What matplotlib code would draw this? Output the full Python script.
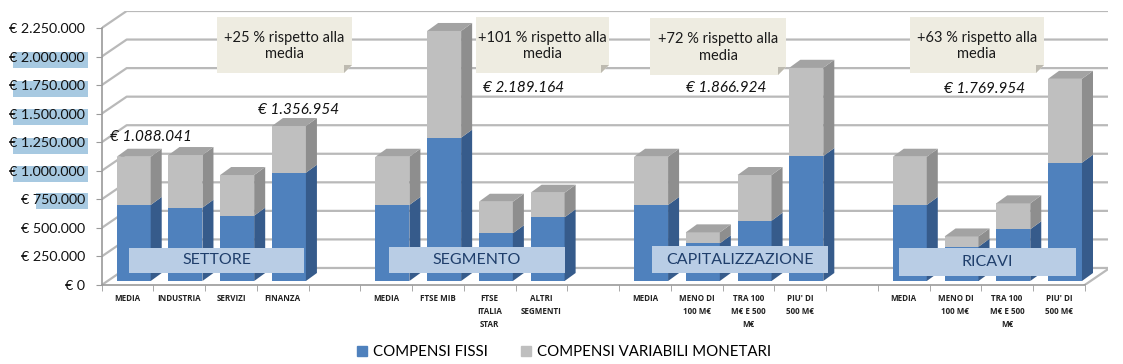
import matplotlib
matplotlib.use("Agg")
import matplotlib.pyplot as plt
from matplotlib.patches import Polygon, Rectangle, Patch
import numpy as np

plt.rcParams['font.family'] = ['Lato', 'DejaVu Sans']

# ---- data (euro) ----
groups = ['SETTORE', 'SEGMENTO', 'CAPITALIZZAZIONE', 'RICAVI']
cat_settore = ['MEDIA', 'INDUSTRIA', 'SERVIZI', 'FINANZA']
cat_segmento = ['MEDIA', 'FTSE MIB', 'FTSE\nITALIA\nSTAR', 'ALTRI\nSEGMENTI']
cat_capitalizzazione = ['MEDIA', 'MENO DI\n100 M€', 'TRA 100\nM€ E 500\nM€', "PIU' DI\n500 M€"]
cat_ricavi = ['MEDIA', 'MENO DI\n100 M€', 'TRA 100\nM€ E 500\nM€', "PIU' DI\n500 M€"]

fissi_settore = [666000, 642000, 572000, 948000]
fissi_segmento = [666000, 1255000, 418000, 558000]
fissi_capitalizzazione = [666000, 330000, 528000, 1094000]
fissi_ricavi = [666000, 300000, 453000, 1036000]

variabili_settore = [422041, 461000, 356000, 408954]
variabili_segmento = [422041, 934164, 276000, 215000]
variabili_capitalizzazione = [422041, 96000, 400000, 772924]
variabili_ricavi = [422041, 90000, 227000, 733954]

value_labels = ['€ 1.088.041', '€ 1.356.954', '€ 2.189.164', '€ 1.866.924', '€ 1.769.954']
callouts = ['+25 % rispetto alla\nmedia', '+101 % rispetto alla\nmedia',
            '+72 % rispetto alla\nmedia', '+63 % rispetto alla\nmedia']
yticks = np.arange(0, 2250001, 250000)

# ---- figure ----
W, H = 1123, 364
fig = plt.figure(figsize=(W / 100, H / 100), dpi=100)

def fx(x):
    return x / W

def fy(y):
    return 1 - y / H

ax = fig.add_axes([fx(101.7), fy(285), (1108 - 101.7) / W, (285 - 11) / H])
ax.set_facecolor('none')
ax.set_xlim(0, 19.45)
ax.set_ylim(0, 2.399e6)

# 3D look
dxw, dyw = 0.483, 149000      # back wall offset
off, w = 0.29, 0.657          # bar front face within slot
dxb, dyb = 0.213, 70000       # bar depth
b0 = 35000

grid_c = '#b9b9b9'
for v in yticks:
    ax.plot([0, dxw, 19.45], [v, v + dyw, v + dyw], color=grid_c, lw=1.6, zorder=1,
            solid_capstyle='butt')
ax.plot([19, 19 + dxw], [0, dyw], color=grid_c, lw=1.6, zorder=1)

cats = cat_settore + [''] + cat_segmento + [''] + cat_capitalizzazione + [''] + cat_ricavi
fissi = fissi_settore + [0] + fissi_segmento + [0] + fissi_capitalizzazione + [0] + fissi_ricavi
variabili = (variabili_settore + [0] + variabili_segmento + [0]
             + variabili_capitalizzazione + [0] + variabili_ricavi)

blue, blue_side = '#4f81bd', '#365b8b'
grey, grey_side, grey_top = '#bfbfbf', '#8e8e8e', '#a3a3a3'

for i, (f, v) in enumerate(zip(fissi, variabili)):
    if f == 0:
        continue
    x0 = i + off
    ax.bar(x0, f, width=w, bottom=b0, align='edge', color=blue, lw=0, zorder=3)
    ax.bar(x0, v, width=w, bottom=b0 + f, align='edge', color=grey, lw=0, zorder=3)
    xr = x0 + w
    ax.add_patch(Polygon([(xr, b0), (xr + dxb, b0 + dyb), (xr + dxb, b0 + f + dyb), (xr, b0 + f)],
                         closed=True, color=blue_side, lw=0, zorder=3))
    t = b0 + f + v
    ax.add_patch(Polygon([(xr, b0 + f), (xr + dxb, b0 + f + dyb), (xr + dxb, t + dyb), (xr, t)],
                         closed=True, color=grey_side, lw=0, zorder=3))
    ax.add_patch(Polygon([(x0, t), (xr, t), (xr + dxb, t + dyb), (x0 + dxb, t + dyb)],
                         closed=True, color=grey_top, lw=0, zorder=3))

for s in ['top', 'right']:
    ax.spines[s].set_visible(False)
ax.spines['left'].set_bounds(0, 2250000)
ax.spines['bottom'].set_bounds(0, 19)
for s in ['left', 'bottom']:
    ax.spines[s].set_color('#9a9a9a')
    ax.spines[s].set_linewidth(1.2)

ax.set_yticks(yticks)
ax.set_yticklabels(['€ ' + f'{int(t):,}'.replace(',', '.') for t in yticks], fontsize=10.3,
                   color='#111111')
ax.tick_params(axis='y', length=4, color='#9a9a9a', pad=8)

ax.set_xticks(np.arange(19) + 0.5)
ax.set_xticklabels(cats, fontsize=5.8, fontweight='bold', linespacing=1.55, color='#222222',
                   family=['Open Sans', 'DejaVu Sans'])
ax.set_xticks(np.arange(20), minor=True)
ax.tick_params(axis='x', which='major', length=0, pad=6.5)
ax.tick_params(axis='x', which='minor', length=4, color='#9a9a9a')

# selection highlight behind some tick labels
for y in [57, 86, 114, 143, 171]:
    fig.add_artist(Rectangle((fx(13), fy(y + 10.5)), fx(88) - fx(13), 16 / H,
                             transform=fig.transFigure, color='#a7c9e1', lw=0, zorder=-1))
fig.add_artist(Rectangle((fx(36), fy(199 + 10.5)), fx(88) - fx(36), 16 / H,
                         transform=fig.transFigure, color='#a7c9e1', lw=0, zorder=-1))

# group label boxes
group_boxes = [(129, 248, 304, 273), (389, 247, 565, 273), (652, 246, 828, 273), (899, 248, 1076, 276)]
for name, (x0, y0, x1, y1) in zip(groups, group_boxes):
    fig.add_artist(Rectangle((fx(x0), fy(y1)), fx(x1) - fx(x0), (y1 - y0) / H,
                             transform=fig.transFigure, color='#b9cde5', lw=0, zorder=2))
    fig.text(fx((x0 + x1) / 2), fy((y0 + y1) / 2), name, ha='center', va='center',
             fontsize=11.5, color='#1f3e6b', zorder=3)

# callouts
callout_boxes = [(217, 17, 352, 73), (476, 17, 609, 73), (650, 18, 786, 75), (910, 17, 1044, 73)]
c = 8
for txt, (x0, y0, x1, y1) in zip(callouts, callout_boxes):
    pts = [(x0, y0), (x1, y0), (x1, y1 - c), (x1 - c, y1), (x0, y1)]
    fig.add_artist(Polygon([(fx(a), fy(b)) for a, b in pts], closed=True,
                           transform=fig.transFigure, color='#eeece1', lw=0, zorder=2))
    fold = [(x1, y1 - c), (x1 - c, y1), (x1 - c, y1 - c)]
    fig.add_artist(Polygon([(fx(a), fy(b)) for a, b in fold], closed=True,
                           transform=fig.transFigure, color='#bdbab0', lw=0, zorder=2))
    fig.text(fx((x0 + x1) / 2), fy((y0 + y1) / 2 + 1), txt, ha='center', va='center',
             fontsize=10.5, linespacing=1.2, color='#1a1a1a', zorder=3)

# value labels
label_pos = [(110, 137), (258, 110), (483, 88), (686, 88), (944, 89)]
for txt, (x, y) in zip(value_labels, label_pos):
    fig.text(fx(x), fy(y), txt, ha='left', va='center', fontsize=11, style='italic',
             color='#111111', zorder=3)

handles = [Patch(color=blue, label='COMPENSI FISSI'),
           Patch(color=grey, label='COMPENSI VARIABILI MONETARI')]
fig.legend(handles=handles, loc='center', bbox_to_anchor=(fx(564), fy(352)), ncol=2,
           frameon=False, fontsize=10.8, handlelength=0.7, handleheight=0.7,
           handletextpad=0.4, columnspacing=2.2)

fig.savefig('out.png', dpi=100)
